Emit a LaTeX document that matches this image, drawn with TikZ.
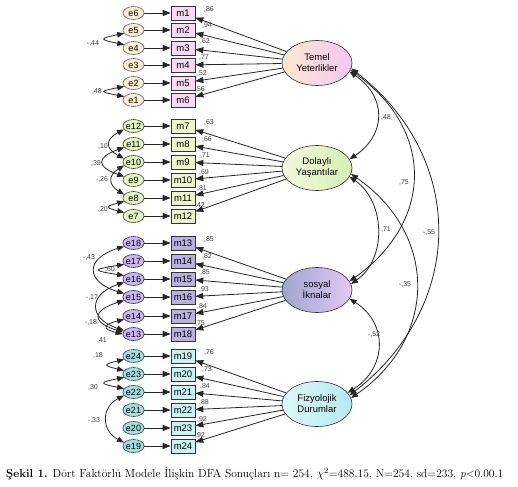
\documentclass[tikz,border=0pt]{standalone}
\usepackage{fontspec}
\usepackage{amsmath}
\usepackage{xcolor}
\newfontfamily\arial{Liberation Sans}
\usetikzlibrary{shapes.geometric, arrows.meta}

\definecolor{temelL}{HTML}{FCE9D2}
\definecolor{temelR}{HTML}{F5C6EE}
\definecolor{dolayliL}{HTML}{F6F8DC}
\definecolor{dolayliR}{HTML}{D4EFB4}
\definecolor{sosyalL}{HTML}{9FA6CF}
\definecolor{sosyalR}{HTML}{E3C9F2}
\definecolor{fizL}{HTML}{DDF8F8}
\definecolor{fizR}{HTML}{B5EAF0}
\definecolor{boxT}{HTML}{F9D9F3}
\definecolor{boxD}{HTML}{EEF5CB}
\definecolor{boxS}{HTML}{B9B2E0}
\definecolor{boxF}{HTML}{C9F3F3}
\definecolor{ellT}{HTML}{FDF1CF}
\definecolor{ellTline}{HTML}{7A4E8A}
\definecolor{ellD}{HTML}{E6F3C3}
\definecolor{ellDline}{HTML}{3F4A1E}
\definecolor{ellS}{HTML}{C9B9EF}
\definecolor{ellSline}{HTML}{3D2766}
\definecolor{ellF}{HTML}{A9DEDE}
\definecolor{ellFline}{HTML}{1F5252}

\begin{document}
\begin{tikzpicture}[x=1pt, y=-1pt,
    itembox/.style={rectangle, draw=black!80, line width=0.6pt, minimum width=24pt, minimum height=14pt, inner sep=0pt, font=\arial\fontsize{9.5}{10}\selectfont},
    itemT/.style={itembox, fill=boxT},
    itemD/.style={itembox, fill=boxD},
    itemS/.style={itembox, fill=boxS},
    itemF/.style={itembox, fill=boxF},
    errnode/.style={ellipse, line width=0.6pt, minimum width=21pt, minimum height=13pt, inner sep=0pt, font=\arial\fontsize{9}{10}\selectfont},
    errT/.style={errnode, fill=ellT, draw=ellTline},
    errD/.style={errnode, fill=ellD, draw=ellDline},
    errS/.style={errnode, fill=ellS, draw=ellSline},
    errF/.style={errnode, fill=ellF, draw=ellFline},
    latent/.style={ellipse, draw=black!80, line width=0.6pt, minimum width=70pt, minimum height=45pt, inner sep=0pt, align=center, font=\arial\fontsize{9.5}{11}\selectfont},
    arrowline/.style={-{Triangle[length=8pt,width=6pt]}, line width=0.8pt, black!85},
    covline/.style={{Triangle[length=7pt,width=5.5pt]}-{Triangle[length=7pt,width=5.5pt]}, line width=0.8pt, black!85},
    coef/.style={font=\arial\fontsize{7}{8}\selectfont, text=black!75, inner sep=0pt}]

    \useasboundingbox (0,0) rectangle (518,486);

    \node[latent, left color=temelL, right color=temelR] (temel) at (317,63) {Temel\\Yeterlikler};
    \node[latent, left color=dolayliL, right color=dolayliR] (dolayli) at (317,168) {Dolaylı\\Yaşantılar};
    \node[latent, left color=sosyalL, right color=sosyalR] (sosyal) at (317,290) {sosyal\\İknalar};
    \node[latent, left color=fizL, right color=fizR] (fizyolojik) at (317,404) {Fizyolojik\\Durumlar};

    \node[itemT] (item1) at (183,13) {m1};
    \node[itemT] (item2) at (183,30) {m2};
    \node[itemT] (item3) at (183,48) {m3};
    \node[itemT] (item4) at (183,65) {m4};
    \node[itemT] (item5) at (183,83) {m5};
    \node[itemT] (item6) at (183,100) {m6};

    \node[itemD] (item7) at (183,126) {m7};
    \node[itemD] (item8) at (183,144) {m8};
    \node[itemD] (item9) at (183,162) {m9};
    \node[itemD] (item10) at (183,180) {m10};
    \node[itemD] (item11) at (183,198) {m11};
    \node[itemD] (item12) at (183,216) {m12};

    \node[itemS] (item13) at (183,243) {m13};
    \node[itemS] (item14) at (183,261) {m14};
    \node[itemS] (item15) at (183,279) {m15};
    \node[itemS] (item16) at (183,297) {m16};
    \node[itemS] (item17) at (183,316) {m17};
    \node[itemS] (item18) at (183,334) {m18};

    \node[itemF] (item19) at (183,356) {m19};
    \node[itemF] (item20) at (183,374) {m20};
    \node[itemF] (item21) at (183,392) {m21};
    \node[itemF] (item22) at (183,410) {m22};
    \node[itemF] (item23) at (183,428) {m23};
    \node[itemF] (item24) at (183,446) {m24};

    \node[errT] (error6) at (133.5,13) {e6};
    \node[errT] (error5) at (133.5,30) {e5};
    \node[errT] (error4) at (133.5,48) {e4};
    \node[errT] (error3) at (133.5,65) {e3};
    \node[errT] (error2) at (133.5,83) {e2};
    \node[errT] (error1) at (133.5,100) {e1};

    \node[errD] (error12) at (133.5,126) {e12};
    \node[errD] (error11) at (133.5,144) {e11};
    \node[errD] (error10) at (133.5,162) {e10};
    \node[errD] (error9) at (133.5,180) {e9};
    \node[errD] (error8) at (133.5,198) {e8};
    \node[errD] (error7) at (133.5,216) {e7};

    \node[errS] (error18) at (133.5,243) {e18};
    \node[errS] (error17) at (133.5,261) {e17};
    \node[errS] (error16) at (133.5,279) {e16};
    \node[errS] (error15) at (133.5,297) {e15};
    \node[errS] (error14) at (133.5,316) {e14};
    \node[errS] (error13) at (133.5,334) {e13};

    \node[errF] (error24) at (133.5,356) {e24};
    \node[errF] (error23) at (133.5,374) {e23};
    \node[errF] (error22) at (133.5,392) {e22};
    \node[errF] (error21) at (133.5,410) {e21};
    \node[errF] (error20) at (133.5,428) {e20};
    \node[errF] (error19) at (133.5,446) {e19};

    \draw[arrowline] (error6) -- (item1);
    \draw[arrowline] (error5) -- (item2);
    \draw[arrowline] (error4) -- (item3);
    \draw[arrowline] (error3) -- (item4);
    \draw[arrowline] (error2) -- (item5);
    \draw[arrowline] (error1) -- (item6);
    \draw[arrowline] (error12) -- (item7);
    \draw[arrowline] (error11) -- (item8);
    \draw[arrowline] (error10) -- (item9);
    \draw[arrowline] (error9) -- (item10);
    \draw[arrowline] (error8) -- (item11);
    \draw[arrowline] (error7) -- (item12);
    \draw[arrowline] (error18) -- (item13);
    \draw[arrowline] (error17) -- (item14);
    \draw[arrowline] (error16) -- (item15);
    \draw[arrowline] (error15) -- (item16);
    \draw[arrowline] (error14) -- (item17);
    \draw[arrowline] (error13) -- (item18);
    \draw[arrowline] (error24) -- (item19);
    \draw[arrowline] (error23) -- (item20);
    \draw[arrowline] (error22) -- (item21);
    \draw[arrowline] (error21) -- (item22);
    \draw[arrowline] (error20) -- (item23);
    \draw[arrowline] (error19) -- (item24);

    \draw[arrowline] (temel) -- (item1);
    \draw[arrowline] (temel) -- (item2);
    \draw[arrowline] (temel) -- (item3);
    \draw[arrowline] (temel) -- (item4);
    \draw[arrowline] (temel) -- (item5);
    \draw[arrowline] (temel) -- (item6);
    \draw[arrowline] (dolayli) -- (item7);
    \draw[arrowline] (dolayli) -- (item8);
    \draw[arrowline] (dolayli) -- (item9);
    \draw[arrowline] (dolayli) -- (item10);
    \draw[arrowline] (dolayli) -- (item11);
    \draw[arrowline] (dolayli) -- (item12);
    \draw[arrowline] (sosyal) -- (item13);
    \draw[arrowline] (sosyal) -- (item14);
    \draw[arrowline] (sosyal) -- (item15);
    \draw[arrowline] (sosyal) -- (item16);
    \draw[arrowline] (sosyal) -- (item17);
    \draw[arrowline] (sosyal) -- (item18);
    \draw[arrowline] (fizyolojik) -- (item19);
    \draw[arrowline] (fizyolojik) -- (item20);
    \draw[arrowline] (fizyolojik) -- (item21);
    \draw[arrowline] (fizyolojik) -- (item22);
    \draw[arrowline] (fizyolojik) -- (item23);
    \draw[arrowline] (fizyolojik) -- (item24);

    \node[coef] (load1) at (209,10) {,86};
    \node[coef] (load2) at (207,25.5) {,94};
    \node[coef] (load3) at (205,42) {,62};
    \node[coef] (load4) at (204,57.5) {,77};
    \node[coef] (load5) at (202,74) {,52};
    \node[coef] (load6) at (200,89.5) {,56};
    \node[coef] (load7) at (209,123) {,63};
    \node[coef] (load8) at (207,139.5) {,66};
    \node[coef] (load9) at (205,156) {,71};
    \node[coef] (load10) at (204,172.5) {,69};
    \node[coef] (load11) at (202,189) {,81};
    \node[coef] (load12) at (200,205.5) {,42};
    \node[coef] (load13) at (209,240) {,85};
    \node[coef] (load14) at (207,256.5) {,82};
    \node[coef] (load15) at (205,273) {,85};
    \node[coef] (load16) at (204,289.5) {,93};
    \node[coef] (load17) at (202,307) {,84};
    \node[coef] (load18) at (200,323.5) {,75};
    \node[coef] (load19) at (209,353) {,76};
    \node[coef] (load20) at (207,369.5) {,73};
    \node[coef] (load21) at (205,386) {,84};
    \node[coef] (load22) at (204,402.5) {,88};
    \node[coef] (load23) at (202,419) {,92};
    \node[coef] (load24) at (200,435.5) {,92};

    \draw[covline] (error5.200) .. controls +(-25,5) and +(-25,-5) .. (error4.160);
    \draw[covline] (error2.200) .. controls +(-25,5) and +(-25,-5) .. (error1.160);
    \node[coef] (cov1) at (93,44) {-,44};
    \node[coef] (cov2) at (97,92) {,48};

    \draw[covline] (error12.200) .. controls +(-19,10) and +(-19,-10) .. (error10.160);
    \draw[covline] (error11.200) .. controls +(-28,10) and +(-28,-10) .. (error9.160);
    \draw[covline] (error10.200) .. controls +(-16,10) and +(-16,-10) .. (error8.160);
    \draw[covline] (error8.200) .. controls +(-19,5) and +(-19,-5) .. (error7.160);
    \node[coef] (cov3) at (103,147) {,10};
    \node[coef] (cov4) at (96,164) {,39};
    \node[coef] (cov5) at (102,180) {-,26};
    \node[coef] (cov6) at (103,210) {,20};

    \draw[covline] (error18.200) .. controls +(-39,12) and +(-39,-12) .. (error15.160);
    \draw[covline] (error17.200) .. controls +(-32,5) and +(-32,-5) .. (error16.160);
    \draw[covline] (error16.200) .. controls +(-36,12) and +(-36,-12) .. (error13.160);
    \draw[covline] (error15.200) .. controls +(-32,10) and +(-32,-10) .. (error13.170);
    \draw[covline] (error14.200) .. controls +(-21,5) and +(-21,-5) .. (error13.180);
    \node[coef] (cov7) at (89,258) {-,43};
    \node[coef] (cov8) at (110,270) {,60};
    \node[coef] (cov9) at (92,298) {-,17};
    \node[coef] (cov10) at (91,323) {-,18};
    \node[coef] (cov11) at (102,341) {,41};

    \draw[covline] (error24.200) .. controls +(-21,5) and +(-21,-5) .. (error23.160);
    \draw[covline] (error23.200) .. controls +(-25,5) and +(-25,-5) .. (error22.160);
    \draw[covline] (error22.200) .. controls +(-23,12) and +(-23,-12) .. (error19.160);
    \node[coef] (cov12) at (98,355) {,18};
    \node[coef] (cov13) at (93,387) {,30};
    \node[coef] (cov14) at (94,420) {-,33};

    \draw[covline] (temel.-15) .. controls +(37,25) and +(37,-25) .. (dolayli.15);
    \draw[covline] (temel.-12) .. controls +(84,60) and +(84,-60) .. (sosyal.15);
    \draw[covline] (temel.-9) .. controls +(116,90) and +(116,-90) .. (fizyolojik.15);
    \draw[covline] (dolayli.-15) .. controls +(36,25) and +(36,-25) .. (sosyal.10);
    \draw[covline] (dolayli.-10) .. controls +(87,60) and +(87,-60) .. (fizyolojik.10);
    \draw[covline] (sosyal.-15) .. controls +(39,25) and +(39,-25) .. (fizyolojik.20);
    \node[coef] (corr1) at (386,118) {,48};
    \node[coef] (corr2) at (404,183) {,75};
    \node[coef] (corr3) at (429,233) {-,55};
    \node[coef] (corr4) at (386,230) {,71};
    \node[coef] (corr5) at (405,285) {-,35};
    \node[coef] (corr6) at (374,335) {-,52};

    \node[anchor=west, inner sep=0pt, font=\fontsize{11.5}{13}\selectfont] (caption) at (6,474) {\textbf{Şekil 1.} Dört Faktörlü Modele İlişkin DFA Sonuçları n= 254, $\chi^2$=488.15, N=254, sd=233, \textit{p}<0.00.1};

\end{tikzpicture}
\end{document}
